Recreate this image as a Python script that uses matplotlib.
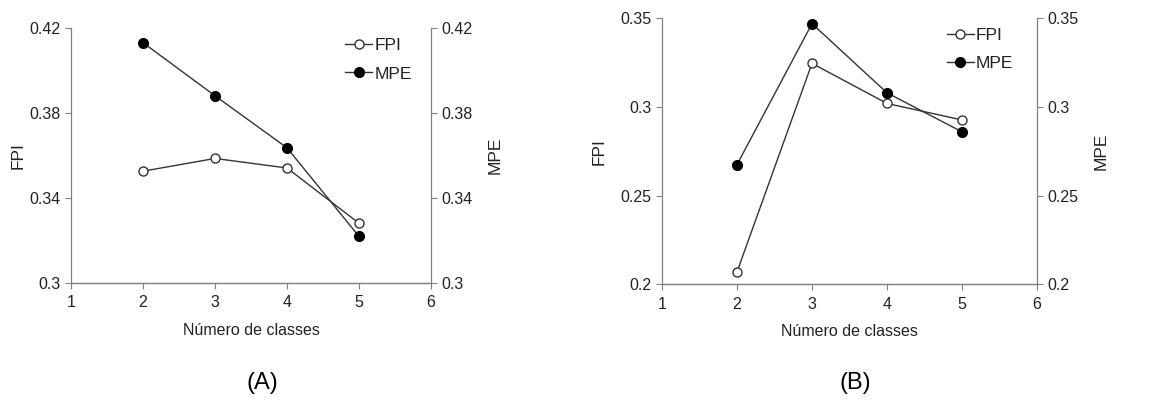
import matplotlib
matplotlib.use("Agg")
import matplotlib.pyplot as plt

plt.rcParams['font.family'] = ['Liberation Sans', 'DejaVu Sans']

classes = [2, 3, 4, 5]
fpi_a = [0.3525, 0.3585, 0.354, 0.328]
mpe_a = [0.413, 0.388, 0.3635, 0.3218]
fpi_b = [0.207, 0.3246, 0.302, 0.2927]
mpe_b = [0.2675, 0.347, 0.308, 0.286]

yticks_a = [0.3, 0.34, 0.38, 0.42]
ytick_labels_a = ['0.3', '0.34', '0.38', '0.42']
yticks_b = [0.2, 0.25, 0.3, 0.35]
ytick_labels_b = ['0.2', '0.25', '0.3', '0.35']
xticks = [1, 2, 3, 4, 5, 6]
panel_labels = ['(A)', '(B)']

fig = plt.figure(figsize=(11.68, 4.03), dpi=100)

line_color = '#333333'
spine_color = '#808080'
text_color = '#222222'


def make_panel(rect, fpi, mpe, yticks, ylabels, label, label_x, leg_anchor,
               ylab_pad, y2lab_pad):
    ax = fig.add_axes(rect)
    ax2 = ax.twinx()
    l1, = ax.plot(classes, fpi, color=line_color, lw=1.0, marker='o', ms=6.5,
                  mfc='white', mec=line_color, mew=1.0, label='FPI', zorder=3)
    l2, = ax2.plot(classes, mpe, color=line_color, lw=1.0, marker='o', ms=7,
                   mfc='black', mec='black', label='MPE', zorder=3)
    for a in (ax, ax2):
        a.set_xlim(1, 6)
        a.set_ylim(yticks[0], yticks[-1])
        a.set_yticks(yticks)
        a.set_yticklabels(ylabels)
        a.spines['top'].set_visible(False)
        for s in ('left', 'right', 'bottom'):
            a.spines[s].set_color(spine_color)
            a.spines[s].set_linewidth(0.9)
        a.tick_params(colors=spine_color, labelcolor=text_color, labelsize=11.5,
                      length=4, width=0.8, direction='out')
    ax2.spines['left'].set_visible(False)
    ax.spines['right'].set_visible(False)
    ax.set_xticks(xticks)
    ax.tick_params(axis='x', pad=5)
    ax.set_xlabel('Número de classes', fontsize=11.5, color=text_color, labelpad=9)
    ax.set_ylabel('FPI', fontsize=12.5, color=text_color, labelpad=ylab_pad)
    ax2.set_ylabel('MPE', fontsize=12.5, color=text_color, labelpad=y2lab_pad)
    ax2.legend(handles=[l1, l2], loc='upper right', bbox_to_anchor=leg_anchor,
               frameon=False, fontsize=12.5, handlelength=1.6, handletextpad=0.1,
               labelspacing=0.75, borderaxespad=0.2, labelcolor=text_color)
    fig.text(label_x, 0.05, label, fontsize=17, ha='center', va='center',
             color='black')
    return ax, ax2


make_panel([0.0608, 0.2985, 0.3082, 0.6325], fpi_a, mpe_a, yticks_a,
           ytick_labels_a, panel_labels[0], 0.225, (0.975, 1.0), 3, 11)
make_panel([0.5668, 0.2945, 0.321, 0.660], fpi_b, mpe_b, yticks_b,
           ytick_labels_b, panel_labels[1], 0.732, (0.965, 1.003), 10, 11)

fig.savefig('out.png', dpi=100)
